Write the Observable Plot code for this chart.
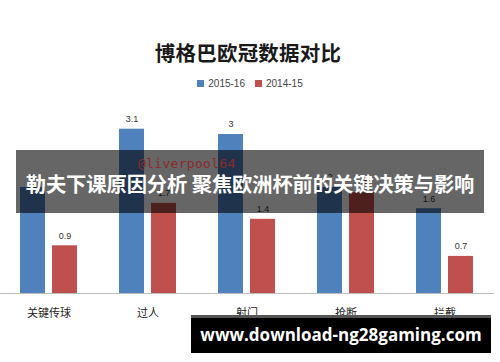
<!DOCTYPE html>
<html><head><meta charset="utf-8">
<script src="https://cdn.jsdelivr.net/npm/d3@7"></script>
<script src="https://cdn.jsdelivr.net/npm/@observablehq/plot@0.6"></script>
<style>
body{margin:0;background:#fff;}
#wrap{position:relative;width:500px;height:362px;overflow:hidden;background:#fff;font-family:"Noto Sans CJK SC","Noto Sans",sans-serif;}
#title{position:absolute;left:0;width:496px;top:37px;text-align:center;font-size:20.5px;font-weight:700;color:#1a1a1a;line-height:30px;letter-spacing:0.2px;}
#legend{position:absolute;left:0;width:500px;top:77px;text-align:center;font-size:10px;color:#444;line-height:14px;font-family:"Liberation Sans","DejaVu Sans",sans-serif;}
#legend span.sw{display:inline-block;width:7px;height:7px;margin-right:4px;vertical-align:0px;}
#legend span.it{margin:0 5px;}
#chart{position:absolute;left:-2px;top:100px;}
#banner{position:absolute;left:16px;top:150px;width:468px;height:63px;background:rgba(0,0,0,0.6);}
#banner .wm{position:absolute;left:122px;top:6px;font-family:"DejaVu Sans Mono",monospace;font-size:13px;color:#8c2a2a;letter-spacing:0.3px;}
#banner .t{position:absolute;left:0;width:468px;top:18px;text-align:center;font-size:20.3px;font-weight:700;color:#fff;line-height:30px;white-space:nowrap;letter-spacing:-0.1px;}
#foot{position:absolute;left:191px;top:315px;width:300px;height:38px;background:#000;border-top:3px solid #555;box-sizing:border-box;}
#foot .t{position:absolute;left:0;width:300px;top:3px;text-align:center;font-family:"Open Sans","DejaVu Sans",sans-serif;font-size:17px;font-weight:700;color:#fff;line-height:28px;white-space:nowrap;}
</style></head>
<body>
<div id="wrap">
  <div id="title"></div>
  <div id="legend"></div>
  <div id="chart"></div>
  <div id="banner"><div class="wm">@liverpool64</div><div class="t"></div></div>
  <div id="foot"><div class="t"></div></div>
</div>
<script>
const titleText = "博格巴欧冠数据对比";
const categories = ["关键传球", "过人", "射门", "抢断", "拦截"];
const series = ["2015-16", "2014-15"];
const values2015 = [2.0, 3.1, 3.0, 2.0, 1.6];
const values2014 = [0.9, 1.7, 1.4, 1.9, 0.7];
const colors = ["#4f81bd", "#c0504d"];
const bannerText = "勒夫下课原因分析 聚焦欧洲杯前的关键决策与影响";
const footText = "www.download-ng28gaming.com";

document.getElementById("title").textContent = titleText;
document.querySelector("#banner .t").textContent = bannerText;
document.querySelector("#foot .t").textContent = footText;
const lg = document.getElementById("legend");
series.forEach((s, i) => {
  const it = document.createElement("span");
  it.className = "it";
  it.innerHTML = `<span class="sw" style="background:${colors[i]}"></span>${s}`;
  lg.appendChild(it);
});

const data = categories.flatMap((c, i) => [
  {cat: c, s: series[0], v: values2015[i]},
  {cat: c, s: series[1], v: values2014[i]}
]);

const chart = Plot.plot({
  width: 500,
  height: 262,
  marginLeft: 0,
  marginRight: 3,
  marginTop: 7.5,
  marginBottom: 69,
  style: {fontFamily: "'Noto Sans CJK SC', sans-serif", fontSize: "11px", color: "#222", background: "transparent"},
  fx: {domain: categories, paddingInner: 0, paddingOuter: 0, label: null, axis: "bottom", tickSize: 0, tickPadding: 16},
  x: {domain: series, paddingInner: 0.212, paddingOuter: 0.612, axis: null},
  y: {domain: [0, 3.5], axis: null},
  color: {domain: series, range: colors},
  marks: [
    Plot.barY(data, {fx: "cat", x: "s", y: "v", fill: "s"}),
    Plot.text(data, {fx: "cat", x: "s", y: "v", text: d => String(d.v), dy: -10, fontSize: 9, fill: "#333", fontFamily: "'Liberation Sans', sans-serif"}),
    Plot.ruleY([0], {stroke: "#bdbdbd", strokeWidth: 1})
  ]
});
document.getElementById("chart").appendChild(chart);
</script>
</body></html>
